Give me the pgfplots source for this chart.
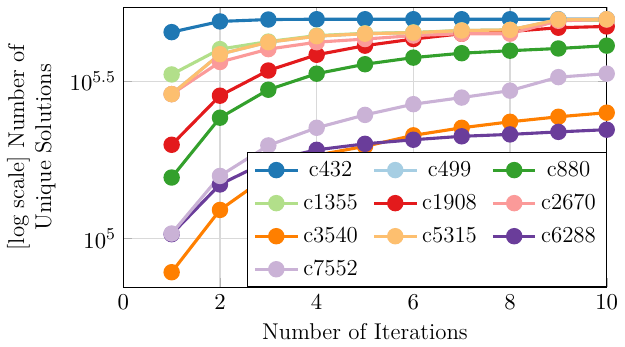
\documentclass[border=0pt]{standalone}
\usepackage{pgfplots}
\pgfplotsset{compat=1.18}
\definecolor{c432}{HTML}{1F78B4}
\definecolor{c499}{HTML}{A6CEE3}
\definecolor{c880}{HTML}{33A02C}
\definecolor{c1355}{HTML}{B2DF8A}
\definecolor{c1908}{HTML}{E31A1C}
\definecolor{c2670}{HTML}{FB9A99}
\definecolor{c3540}{HTML}{FF7F00}
\definecolor{c5315}{HTML}{FDBF6F}
\definecolor{c6288}{HTML}{6A3D9A}
\definecolor{c7552}{HTML}{CAB2D6}
\begin{document}
\begin{tikzpicture}
\begin{axis}[
  scale only axis,
  width=233pt, height=135pt,
  font=\fontsize{11}{13}\selectfont,
  xmin=0, xmax=10,
  ymin=4.845, ymax=5.735,
  xtick={0,2,4,6,8,10},
  ytick={5,5.5},
  yticklabels={$10^{5}$,$10^{5.5}$},
  grid=major,
  major grid style={gray!30, line width=0.6pt},
  tick style={gray!60},
  xlabel={Number of Iterations},
  ylabel={[log scale] Number of\\Unique Solutions},
  ylabel style={align=center},
  every axis plot/.append style={line width=1.5pt, mark=*, mark size=3.2pt},
  legend columns=3,
  legend cell align=center,
  legend style={at={(1,0)}, anchor=south east, draw=black, line width=0.5pt,
    row sep=3pt,
    /tikz/every even column/.append style={column sep=5pt}},
  legend image code/.code={\draw[mark repeat=2,mark phase=2] plot coordinates {(0cm,0cm)(0.36cm,0cm)(0.72cm,0cm)};},
]
\addplot[color=c432] coordinates {(1,5.656)(2,5.690)(3,5.696)(4,5.697)(5,5.697)(6,5.697)(7,5.697)(8,5.697)(9,5.697)(10,5.697)};
\addlegendentry{c432}
\addplot[color=c499] coordinates {(1,5.459)(2,5.586)(3,5.624)(4,5.643)(5,5.651)(6,5.654)(7,5.661)(8,5.663)(9,5.696)(10,5.697)};
\addlegendentry{c499}
\addplot[color=c880] coordinates {(1,5.194)(2,5.384)(3,5.473)(4,5.524)(5,5.554)(6,5.575)(7,5.589)(8,5.597)(9,5.604)(10,5.613)};
\addlegendentry{c880}
\addplot[color=c1355] coordinates {(1,5.5215)(2,5.602)(3,5.626)(4,5.645)(5,5.652)(6,5.655)(7,5.661)(8,5.663)(9,5.693)(10,5.694)};
\addlegendentry{c1355}
\addplot[color=c1908] coordinates {(1,5.298)(2,5.454)(3,5.534)(4,5.584)(5,5.613)(6,5.634)(7,5.651)(8,5.658)(9,5.670)(10,5.674)};
\addlegendentry{c1908}
\addplot[color=c2670] coordinates {(1,5.459)(2,5.561)(3,5.602)(4,5.624)(5,5.634)(6,5.645)(7,5.651)(8,5.651)(9,5.692)(10,5.696)};
\addlegendentry{c2670}
\addplot[color=c3540] coordinates {(1,4.893)(2,5.091)(3,5.200)(4,5.265)(5,5.293)(6,5.328)(7,5.352)(8,5.371)(9,5.387)(10,5.400)};
\addlegendentry{c3540}
\addplot[color=c5315] coordinates {(1,5.459)(2,5.586)(3,5.624)(4,5.643)(5,5.651)(6,5.654)(7,5.661)(8,5.663)(9,5.696)(10,5.697)};
\addlegendentry{c5315}
\addplot[color=c6288] coordinates {(1,5.014)(2,5.172)(3,5.247)(4,5.282)(5,5.301)(6,5.314)(7,5.325)(8,5.331)(9,5.339)(10,5.346)};
\addlegendentry{c6288}
\addplot[color=c7552] coordinates {(1,5.016)(2,5.199)(3,5.296)(4,5.352)(5,5.393)(6,5.427)(7,5.448)(8,5.470)(9,5.513)(10,5.524)};
\addlegendentry{c7552}
\end{axis}
\path (current axis.north) ++(0,3.5pt);
\end{tikzpicture}
\end{document}
